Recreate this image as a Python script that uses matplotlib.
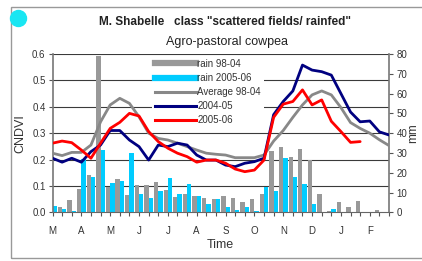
import matplotlib
matplotlib.use("Agg")
import matplotlib.pyplot as plt
import numpy as np
from matplotlib.lines import Line2D
from matplotlib.patches import Rectangle, Ellipse

plt.rcParams['font.family'] = ['Liberation Sans', 'DejaVu Sans']

# ---- data ----
months = ["M", "A", "M", "J", "J", "A", "S", "O", "N", "D", "J", "F"]
dekads = list(range(36))

rain_9804 = [3, 2.5, 6.3, 12, 18.8, 79, 13, 17, 8.7, 13.8, 13.8, 15.2,
             11.3, 7.6, 9.3, 8.2, 7.1, 6.6, 8.2, 7.1, 5.4, 6.6, 9.3, 31,
             33, 28, 32, 26.5, 9.3, 0.5, 5, 2.5, 5.8, 0.3, 1.4, 0.3]
rain_0506 = [3.3, 1.8, 0.7, 27, 18, 31.5, 15, 15.8, 30, 9.1, 7.1, 10.9,
             17.2, 9.1, 14.1, 8.2, 4.2, 6.6, 2.5, 1.2, 2.5, 0.7, 12.6, 10.9,
             27.3, 17.7, 14.1, 4.2, 0.3, 1.8, 0, 0, 0, 0, 0, 0]

avg_9804 = [0.224, 0.215, 0.227, 0.227, 0.255, 0.343, 0.407, 0.432, 0.413, 0.362,
            0.300, 0.280, 0.274, 0.262, 0.249, 0.236, 0.224, 0.220, 0.217, 0.207,
            0.207, 0.207, 0.217, 0.270, 0.310, 0.360, 0.407, 0.445, 0.460, 0.445,
            0.397, 0.340, 0.318, 0.300, 0.275, 0.253]
ndvi_0405 = [0.205, 0.190, 0.205, 0.190, 0.230, 0.255, 0.310, 0.310, 0.274, 0.249,
             0.198, 0.255, 0.249, 0.262, 0.255, 0.217, 0.198, 0.198, 0.179, 0.173,
             0.186, 0.192, 0.205, 0.370, 0.420, 0.460, 0.558, 0.539, 0.533, 0.520,
             0.450, 0.380, 0.343, 0.346, 0.305, 0.293]
ndvi_0506 = [0.262, 0.270, 0.264, 0.236, 0.205, 0.262, 0.318, 0.341, 0.375, 0.365,
             0.306, 0.268, 0.243, 0.224, 0.211, 0.190, 0.198, 0.198, 0.186, 0.164,
             0.154, 0.160, 0.198, 0.360, 0.410, 0.420, 0.464, 0.407, 0.426, 0.345,
             0.306, 0.265, 0.268, np.nan, np.nan, np.nan]

ndvi_ticks = [0.0, 0.1, 0.2, 0.3, 0.4, 0.5, 0.6]
mm_ticks = [0, 10, 20, 30, 40, 50, 60, 70, 80]

GREY_BAR = '#999999'
CYAN = '#00CCFF'
TXT = '#333333'
GRID = '#3a3a3a'

fig = plt.figure(figsize=(4.22, 2.61), dpi=100)
fig.patch.set_facecolor('white')

L, R = 52.5 / 422, 389 / 422
B, T = (261 - 212.3) / 261, (261 - 54) / 261
axb = fig.add_axes([L, B, R - L, T - B])
axl = axb.twinx()

x = np.array(dekads)
w = 0.45
axb.bar(x - w / 2, rain_9804, width=w, color=GREY_BAR, zorder=2)
axb.bar(x + w / 2, rain_0506, width=w, color=CYAN, zorder=2)
axb.set_ylim(0, 80)
axb.set_xlim(0, 35)
mm_max = 80
for t in ndvi_ticks[1:]:
    axb.axhline(t / ndvi_ticks[-1] * mm_max, color=GRID, lw=0.8, zorder=1)

axb.yaxis.tick_right()
axb.set_yticks(mm_ticks)
axb.set_yticklabels([str(v) for v in mm_ticks])
axb.yaxis.set_label_position('right')
axb.set_ylabel('mm', fontsize=8.5, color=TXT, labelpad=0)

axl.plot(x, avg_9804, color='#888888', lw=2.0, zorder=3, solid_capstyle='round')
axl.plot(x, ndvi_0405, color='#000080', lw=2.0, zorder=4, solid_capstyle='round')
axl.plot(x, ndvi_0506, color='#FF0000', lw=2.0, zorder=5, solid_capstyle='round')
axl.set_ylim(0, 0.6)
axl.set_xlim(0, 35)
axl.yaxis.tick_left()
axl.yaxis.set_label_position('left')
axl.set_yticks(ndvi_ticks)
axl.set_yticklabels([f"{v:.1f}" for v in ndvi_ticks])
axl.set_ylabel('CNDVI', fontsize=9, color=TXT, labelpad=4)

axb.set_xticks(x[::3])
axb.set_xticklabels(months)
axb.set_xticks(x, minor=True)
axb.set_xlabel('Time', fontsize=9, color=TXT, labelpad=2)

for a in (axb, axl):
    for s in a.spines.values():
        s.set_visible(False)
axb.spines['bottom'].set_visible(True)
axb.spines['bottom'].set_color('#666666')
axl.spines['left'].set_visible(True)
axl.spines['left'].set_color('#777777')
axl.spines['left'].set_linewidth(1.2)
axb.spines['right'].set_visible(True)
axb.spines['right'].set_color('#777777')
axb.spines['right'].set_linewidth(1.2)

axb.tick_params(axis='x', which='both', direction='out', length=3, width=0.8,
                color='#555555', labelsize=7, labelcolor=TXT, pad=7)
axb.tick_params(axis='y', direction='out', length=3, width=0.8, color='#555555',
                labelsize=7, labelcolor=TXT, pad=2.5)
axl.tick_params(axis='y', direction='out', length=3, width=0.8, color='#555555',
                labelsize=7, labelcolor=TXT, pad=2)
axl.tick_params(axis='x', which='both', bottom=False, labelbottom=False)

handles = [Line2D([], [], color=GREY_BAR, lw=4.5),
           Line2D([], [], color=CYAN, lw=4.5),
           Line2D([], [], color='#888888', lw=2.2),
           Line2D([], [], color='#000080', lw=2.2),
           Line2D([], [], color='#FF0000', lw=2.2)]
labels = ['rain 98-04', 'rain 2005-06', 'Average 98-04', '2004-05', '2005-06']
leg = axl.legend(handles, labels, loc='upper left',
                 bbox_to_anchor=((150 - 52.5) / 336.5, 1.0),
                 fontsize=7, frameon=True, fancybox=False, framealpha=1,
                 edgecolor='none', facecolor='white', handlelength=4.2,
                 handletextpad=0.15, labelspacing=0.42, borderpad=0.3,
                 borderaxespad=0.2)
for t in leg.get_texts():
    t.set_color(TXT)
leg.set_zorder(10)

fig.text(225 / 422, 1 - 22 / 261, 'M. Shabelle   class "scattered fields/ rainfed"',
         ha='center', va='center', fontsize=8.5, fontweight='bold', color='#222222')
fig.text(227 / 422, 1 - 41.5 / 261, 'Agro-pastoral cowpea',
         ha='center', va='center', fontsize=9, color='#222222')

fig.add_artist(Rectangle((11 / 422, 3 / 261), 1.0, (258 - 7) / 261,
                         transform=fig.transFigure, fill=False,
                         edgecolor='#999999', lw=1.0))
fig.add_artist(Ellipse((18.5 / 422, 1 - 18.5 / 261), 16 / 422, 16 / 261,
                       transform=fig.transFigure, color='#19E6F2'))

fig.savefig('out.png', dpi=100)
